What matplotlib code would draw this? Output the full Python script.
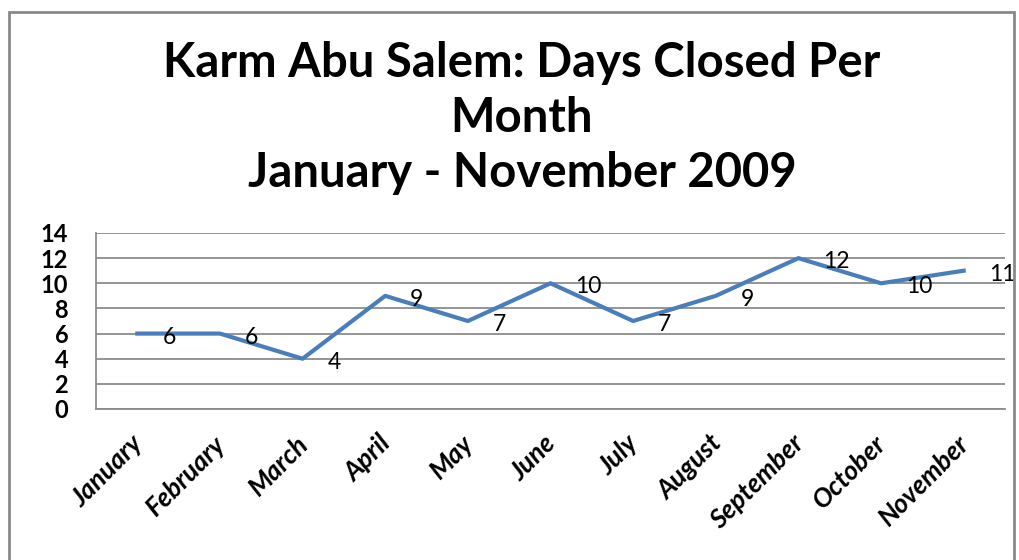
import matplotlib
matplotlib.use('Agg')
import matplotlib.pyplot as plt
from matplotlib.patches import Rectangle
from matplotlib.transforms import offset_copy, ScaledTranslation

plt.rcParams['font.family'] = ['Lato', 'DejaVu Sans']

# 数据
months = ['January', 'February', 'March', 'April', 'May', 'June',
          'July', 'August', 'September', 'October', 'November']
days_closed = [6, 6, 4, 9, 7, 10, 7, 9, 12, 10, 11]
y_ticks = [0, 2, 4, 6, 8, 10, 12, 14]
title_lines = ['Karm Abu Salem: Days Closed Per', 'Month', 'January - November 2009']

W, H = 1020, 560
fig = plt.figure(figsize=(W / 100, H / 100), dpi=100)

# 外框
fig.patches.append(Rectangle((9 / W, -0.05), 1005 / W, 1 - 12 / H + 0.05,
                             transform=fig.transFigure, fill=False,
                             edgecolor='#8a8a8a', lw=2))

# 标题
for line, yc in zip(title_lines, [63, 118, 173]):
    fig.text(522 / W, 1 - yc / H, line, ha='center', va='center',
             fontsize=34, fontweight='bold', color='black')

ax = fig.add_axes([96 / W, 1 - 409 / H, (1005 - 96) / W, (409 - 233) / H])
x = list(range(len(months)))
ax.plot(x, days_closed, color='#4a7ebb', lw=3, solid_joinstyle='round')

# 数据标签
lab_tr = offset_copy(ax.transData, fig=fig, x=18, y=-2.5, units='points')
for xi, v in zip(x, days_closed):
    ax.text(xi, v, str(v), transform=lab_tr, ha='left', va='center',
            fontsize=16.5, color='black')

ax.set_xlim(-0.5, len(months) - 0.5)
ax.set_ylim(0, 14)
ax.set_yticks(y_ticks)
ax.set_yticklabels([str(t) for t in y_ticks], fontsize=17, fontweight='bold')
ax.yaxis.grid(True, color='#8c8c8c', lw=1.3)
ax.set_axisbelow(True)
ax.tick_params(axis='y', length=0, pad=20)
ax.tick_params(axis='x', length=0, pad=16)
ax.set_xticks(x)
ax.set_xticklabels(months, rotation=45, ha='right', rotation_mode='anchor',
                   fontsize=19, fontweight='bold', fontstyle='italic')
shift = ScaledTranslation(-5 / 72, 0, fig.dpi_scale_trans)
for lab in ax.get_xticklabels():
    lab.set_transform(lab.get_transform() + shift)

for s in ['top', 'right']:
    ax.spines[s].set_visible(False)
for s in ['left', 'bottom']:
    ax.spines[s].set_color('#8c8c8c')
    ax.spines[s].set_linewidth(1.3)

fig.savefig('out.png', dpi=100)
